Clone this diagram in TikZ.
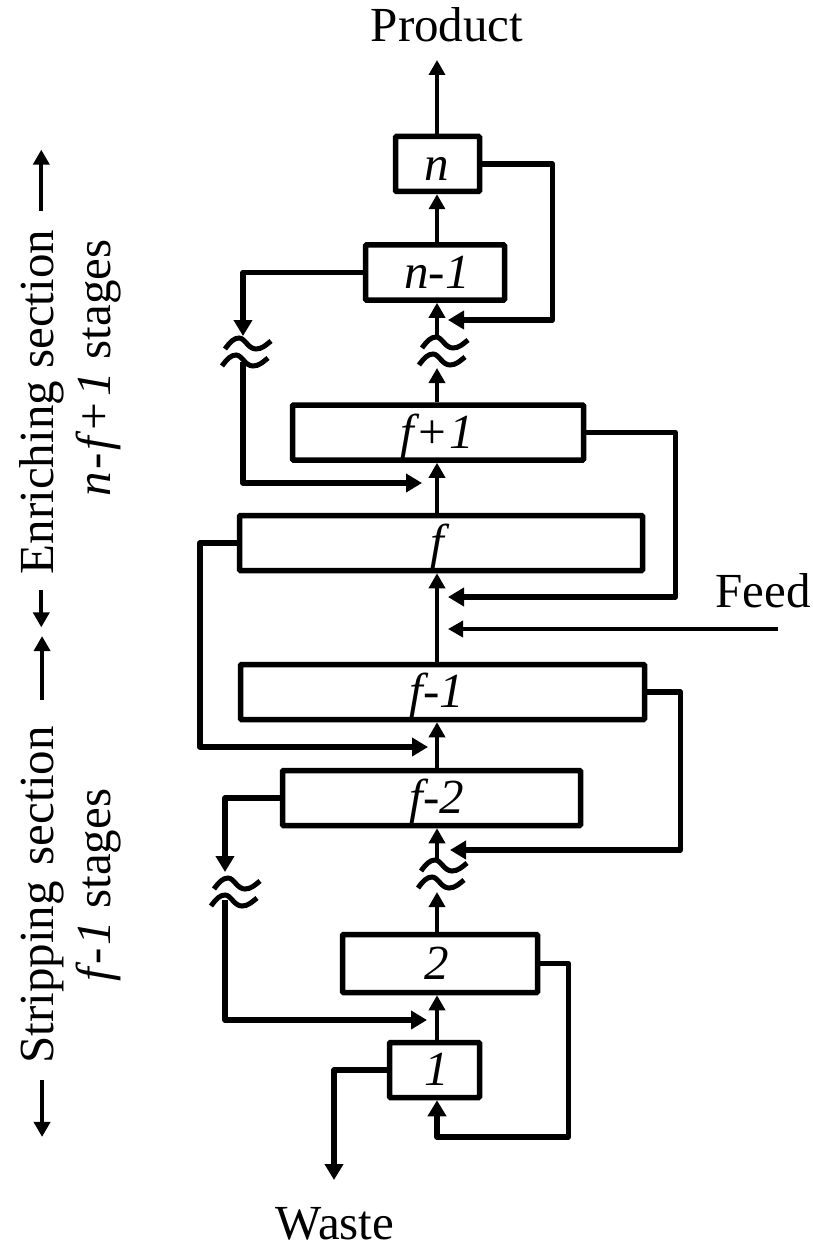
\documentclass[tikz,border=0pt]{standalone}
\usepackage{fontspec}
\setmainfont{Liberation Serif}
\usepackage{tikz}
\usetikzlibrary{arrows.meta}

% broken line mark, #1 = top of the upper wave
\newcommand{\cutmark}[1]{%
  \draw[wave, shift={(#1)}] (-14,11) .. controls (-9,4) and (-5,0) .. (0,0)
    .. controls (6,0) and (9,11) .. (17,11) .. controls (23,11) and (27,7) .. (32,3);
  \draw[wave, shift={(#1)}] (-17,28) .. controls (-12,21) and (-8,17) .. (-3,17)
    .. controls (3,17) and (6,28) .. (14,28) .. controls (20,28) and (24,24) .. (29,20);
}

\begin{document}
\begin{tikzpicture}[x=1pt, y=-1pt,
      every node/.style={font=\fontsize{49}{58}\selectfont},
      stage/.style={draw, line width=5.5pt, rounded corners=1pt, minimum height=55pt, inner sep=0pt},
      tag/.style={anchor=base, font=\fontsize{49}{58}\selectfont\itshape},
      word/.style={anchor=base},
      side/.style={anchor=base, rotate=90, inner sep=0pt},
      flow/.style={-{Triangle[length=15pt, width=16pt]}, line width=3.5pt},
      back/.style={-{Triangle[length=16pt, width=18pt]}, line width=5.5pt, line join=round},
      sidearrow/.style={-{Triangle[length=15pt, width=16pt]}, line width=4pt},
      wave/.style={line width=5pt}
      ]
    \useasboundingbox (0,0) rectangle (812,1249);

    % Stages
    \node[stage, minimum width=84pt] (n) at (437.5,164) {};
    \node[stage, minimum width=139pt] (nm1) at (435,272.5) {};
    \node[stage, minimum width=291pt] (f1) at (438,432.5) {};
    \node[stage, minimum width=403pt] (f) at (441,543) {};
    \node[stage, minimum width=404pt] (fm1) at (442.5,692) {};
    \node[stage, minimum width=298pt] (fm2) at (431.5,798) {};
    \node[stage, minimum width=195pt, minimum height=58pt] (s2) at (440,963.5) {};
    \node[stage, minimum width=90pt] (s1) at (434.5,1070) {};

    % Stage numbers
    \node[tag] (nt) at (437,181) {n};
    \node[tag] (nm1t) at (437,288) {n-1};
    \node[tag] (f1t) at (437,448) {f\kern1pt+\kern1pt1};
    \node[tag] (ft) at (437,558) {f};
    \node[tag] (fm1t) at (437,707) {f-1};
    \node[tag] (fm2t) at (437,813) {f-2};
    \node[tag] (s2t) at (437,979) {2};
    \node[tag] (s1t) at (437,1085) {1};

    % Streams
    \node[word] (prod) at (447,42) {Product};
    \node[word, anchor=base west] (feed) at (712,607) {Feed};
    \node[word] (waste) at (335,1239) {Waste};

    % Section labels
    \node[side] (enr) at (53,402) {Enriching section};
    \node[side] (enrn) at (110,368) {\itshape n\kern3pt-\kern2pt f\kern4pt+\kern4pt1\upshape{} stages};
    \node[side] (str) at (53,895) {Stripping\kern4pt{} section};
    \node[side] (strn) at (110,885) {\itshape f\kern3pt-\kern3pt1\upshape{} stages};

    % Points
    \coordinate (ax) at (437,0);
    \coordinate (outP) at (437,60);
    \coordinate (cutA) at (436,337);
    \coordinate (cutB) at (239,338);
    \coordinate (cutC) at (435,860);
    \coordinate (cutD) at (228,878);
    \coordinate (upA) at (437,368);
    \coordinate (dnB) at (243,336);
    \coordinate (upB) at (243,362);
    \coordinate (upC) at (437,892);
    \coordinate (dnD) at (225,872);
    \coordinate (upD) at (225,900);
    \coordinate (inN) at (448,320);
    \coordinate (inF1) at (422,483);
    \coordinate (inF) at (448,597);
    \coordinate (inFeed) at (448,629);
    \coordinate (feedsrc) at (778,629);
    \coordinate (inFm1) at (428,747);
    \coordinate (inFm2) at (450,850);
    \coordinate (inS2) at (427,1020);
    \coordinate (loopS) at (437,1137);
    \coordinate (dnW) at (334,1180);

    % Breaks
    \cutmark{cutA}
    \cutmark{cutB}
    \cutmark{cutC}
    \cutmark{cutD}

    % Upward flow
    \draw[flow] (ax |- n.north) -- (outP);
    \draw[flow] (ax |- nm1.north) -- (ax |- n.south);
    \draw[flow] (ax |- cutA) -- (ax |- nm1.south);
    \draw[flow] (ax |- f1.north) -- (upA);
    \draw[flow] (ax |- f.north) -- (ax |- f1.south);
    \draw[flow] (ax |- fm1.north) -- (ax |- f.south);
    \draw[flow] (ax |- fm2.north) -- (ax |- fm1.south);
    \draw[flow] (ax |- cutC) -- (ax |- fm2.south);
    \draw[flow] (ax |- s2.north) -- (upC);
    \draw[flow] (ax |- s1.north) -- (ax |- s2.south);
    \draw[flow] (feedsrc) -- (inFeed);

    % Return flows
    \draw[back] (n.east) -- ++(70,0) |- (inN);
    \draw[back] (nm1.west) -| (dnB);
    \draw[back] (upB) |- (inF1);
    \draw[back] (f1.east) -- ++(89,0) |- (inF);
    \draw[back] (f.west) -- ++(-37,0) |- (inFm1);
    \draw[back] (fm1.east) -- ++(33,0) |- (inFm2);
    \draw[back] (fm2.west) -| (dnD);
    \draw[back] (upD) |- (inS2);
    \draw[back] (s2.east) -- ++(28,0) |- (loopS) -- (ax |- s1.south);
    \draw[back] (s1.west) -| (dnW);

    % Section arrows
    \draw[sidearrow] (enr.east) ++(0,-19) -- ++(0,-61);
    \draw[sidearrow] (enr.west) ++(0,16) -- ++(0,37);
    \draw[sidearrow] (str.east) ++(0,-26) -- ++(0,-64);
    \draw[sidearrow] (str.west) ++(0,16) -- ++(0,57);

\end{tikzpicture}
\end{document}
